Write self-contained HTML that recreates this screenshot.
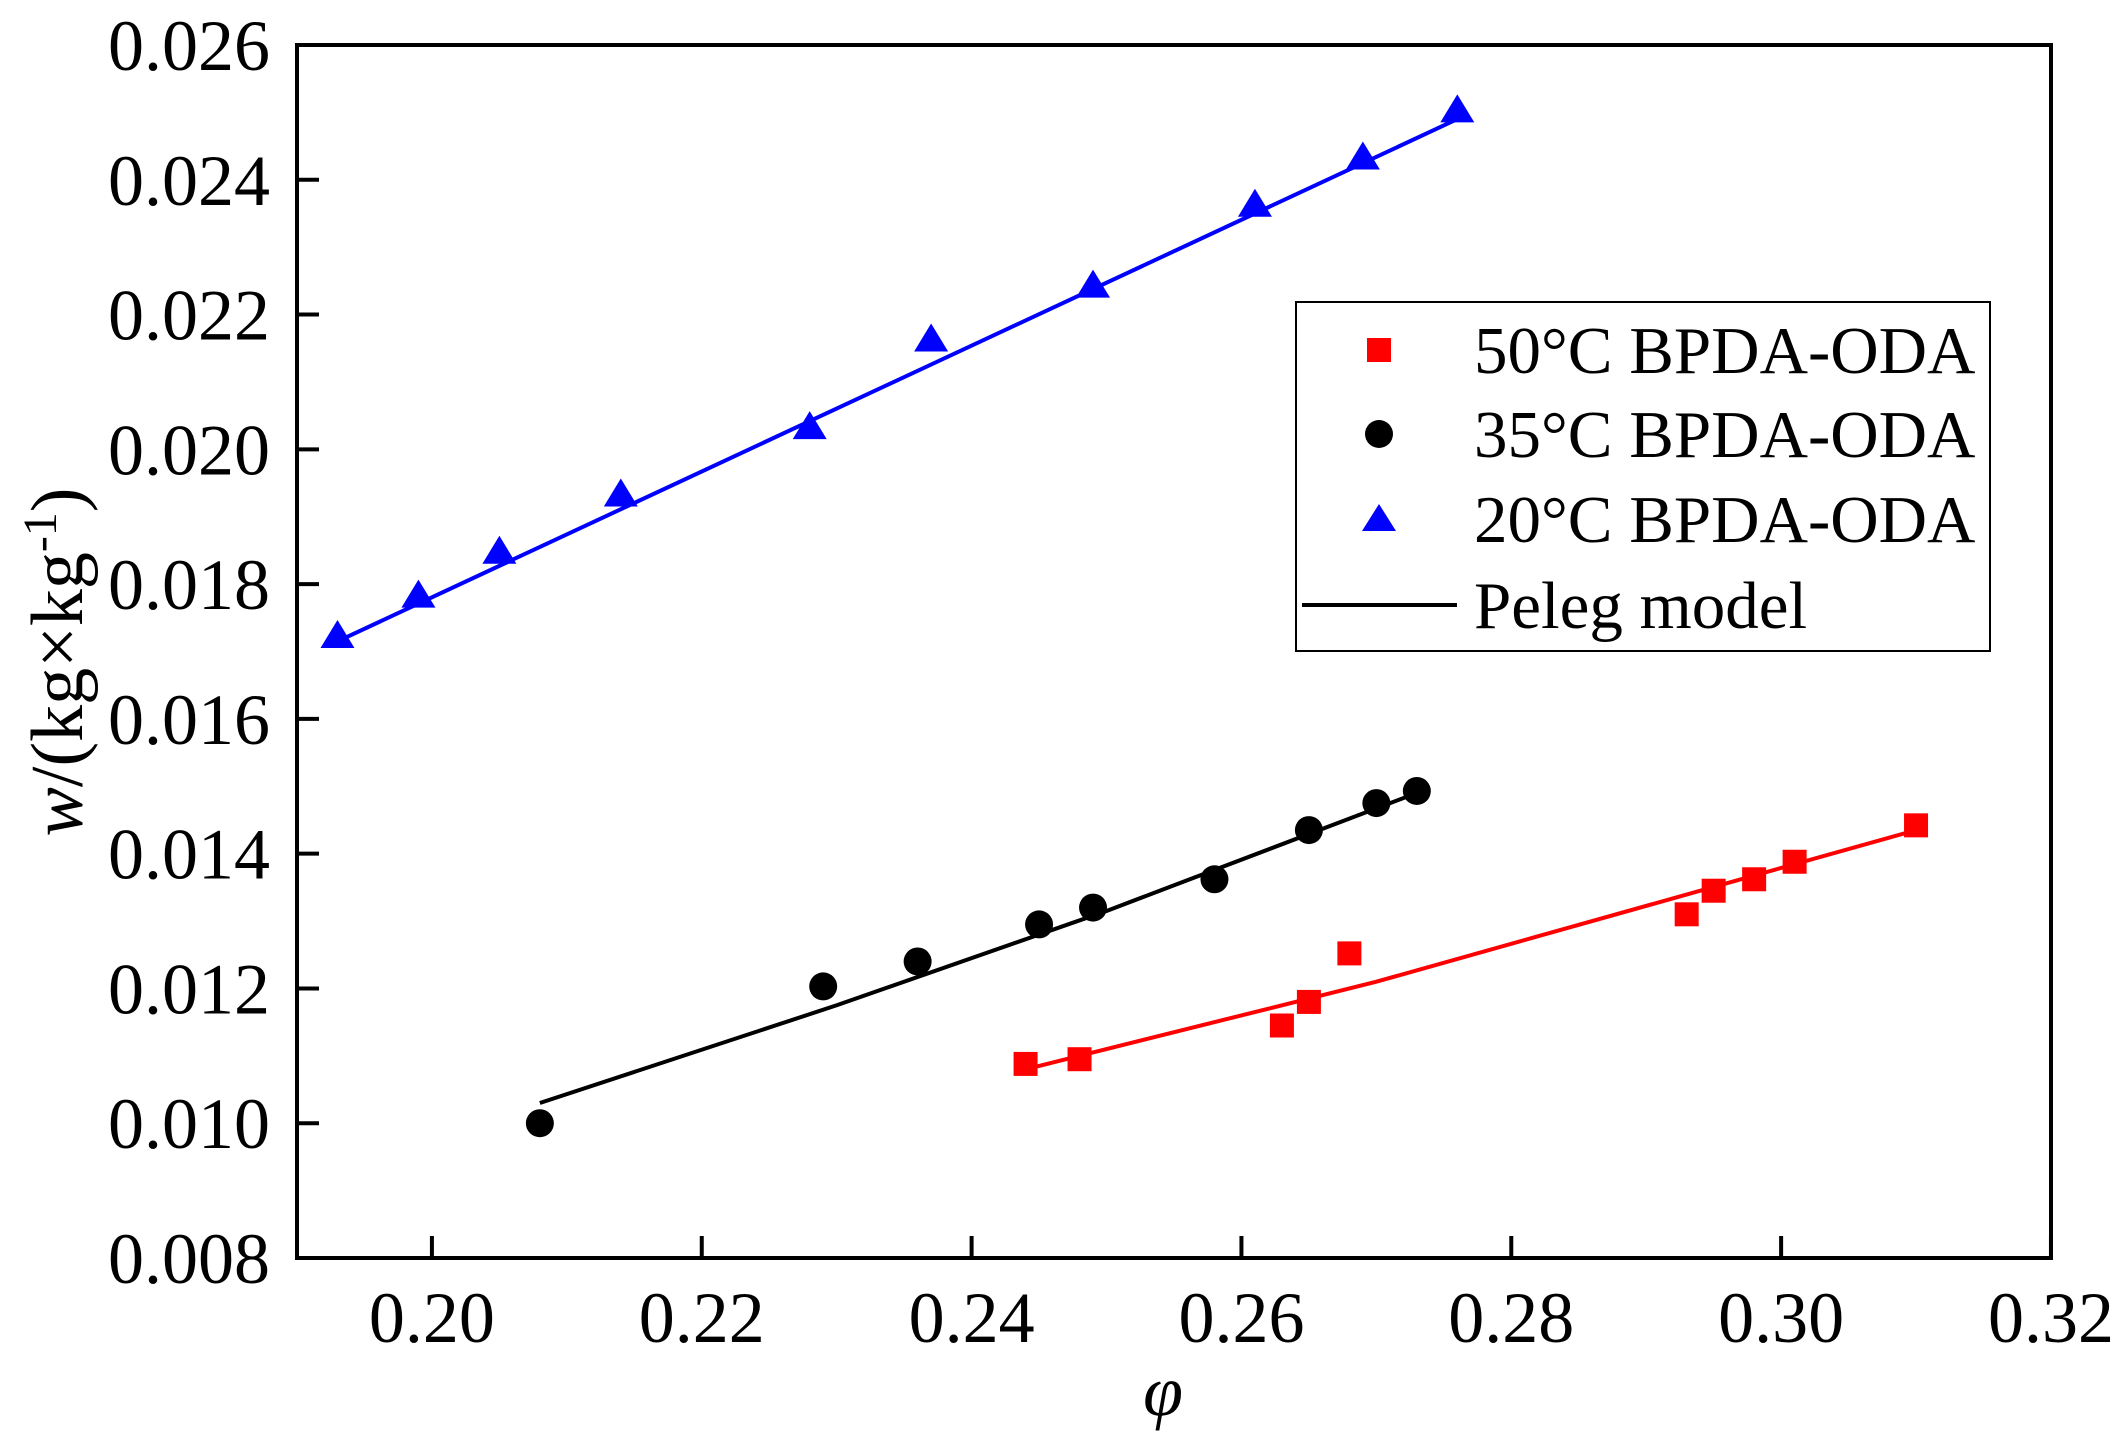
<!DOCTYPE html>
<html><head><meta charset="utf-8"><style>
html,body{margin:0;padding:0;background:#fff;}
svg{display:block;font-family:"Liberation Serif",serif;}
</style></head><body>
<svg id="s" width="2120" height="1438" xmlns="http://www.w3.org/2000/svg">
<rect width="2120" height="1438" fill="#fff"/>
<g id="plot"></g>
<rect x="297" y="45" width="1754" height="1213" fill="none" stroke="#000" stroke-width="4"/>
<g id="ticks" stroke="#000" stroke-width="4"></g>
<g id="labels" font-size="72" fill="#000"></g>
<text transform="translate(82,662) rotate(-90)" font-size="74" text-anchor="middle"><tspan font-style="italic">w</tspan>/(kg×kg<tspan baseline-shift="super" font-size="48">-1</tspan>)</text>
<text x="1163" y="1415" font-size="72" font-style="italic" text-anchor="middle">φ</text>
<rect x="1296" y="302" width="694" height="349" fill="#fff" stroke="#000" stroke-width="2"/>
<rect x="1367" y="338" width="24" height="24" fill="#f00"/>
<circle cx="1379" cy="434" r="14" fill="#000"/>
<polygon points="1379,504 1396,531 1362,531" fill="#00f"/>
<line x1="1302" y1="605" x2="1457" y2="605" stroke="#000" stroke-width="4"/>
<g font-size="67">
<text x="1474" y="373">50°C BPDA-ODA</text>
<text x="1474" y="457">35°C BPDA-ODA</text>
<text x="1474" y="542">20°C BPDA-ODA</text>
<text x="1474" y="628">Peleg model</text>
</g>
</svg>
<script>
var NS="http://www.w3.org/2000/svg";
function X(p){return 297+(p-0.19)*13492;}
function Y(v){return 1258-(v-0.008)*67390;}
function el(tag,a,par){var e=document.createElementNS(NS,tag);for(var k in a)e.setAttribute(k,a[k]);document.getElementById(par).appendChild(e);return e;}
for(var i=0;i<=6;i++){var p=0.20+i*0.02,x=X(p);el('line',{x1:x,y1:1258,x2:x,y2:1236},'ticks');var t=el('text',{x:x,y:1342,'text-anchor':'middle'},'labels');t.textContent=p.toFixed(2);}
for(var i=0;i<=9;i++){var v=0.008+i*0.002,y=Y(v);el('line',{x1:297,y1:y,x2:319,y2:y},'ticks');var t=el('text',{x:270,y:y+25,'text-anchor':'end'},'labels');t.textContent=v.toFixed(3);}
el('line',{x1:X(0.193),y1:Y(0.01715),x2:X(0.276),y2:Y(0.0249),stroke:'#00f','stroke-width':4},'plot');
el('polyline',{points:[X(0.208),Y(0.0103),X(0.23),Y(0.01175),X(0.25),Y(0.01315),X(0.273),Y(0.0149)].join(' '),fill:'none',stroke:'#000','stroke-width':4},'plot');
el('polyline',{points:[X(0.244),Y(0.0108),X(0.27),Y(0.0121),X(0.310),Y(0.01435)].join(' '),fill:'none',stroke:'#f00','stroke-width':4},'plot');
var B=[[0.193,0.0172],[0.199,0.0178],[0.205,0.01845],[0.214,0.0193],[0.228,0.0203],[0.237,0.0216],[0.249,0.0224],[0.261,0.0236],[0.269,0.0243],[0.276,0.0250]];
B.forEach(function(d){var x=X(d[0]),y=Y(d[1]);el('polygon',{points:(x)+','+(y-18)+' '+(x+17)+','+(y+10)+' '+(x-17)+','+(y+10),fill:'#00f'},'plot');});
var K=[[0.208,0.0100],[0.229,0.01203],[0.236,0.0124],[0.245,0.01295],[0.249,0.0132],[0.258,0.01362],[0.265,0.01435],[0.270,0.01475],[0.273,0.01493]];
K.forEach(function(d){el('circle',{cx:X(d[0]),cy:Y(d[1]),r:14,fill:'#000'},'plot');});
var R=[[0.244,0.01088],[0.248,0.01095],[0.263,0.01145],[0.265,0.0118],[0.268,0.01252],[0.293,0.0131],[0.295,0.01345],[0.298,0.01362],[0.301,0.01388],[0.310,0.01442]];
R.forEach(function(d){el('rect',{x:X(d[0])-12,y:Y(d[1])-12,width:24,height:24,fill:'#f00'},'plot');});
</script>
</body></html>
